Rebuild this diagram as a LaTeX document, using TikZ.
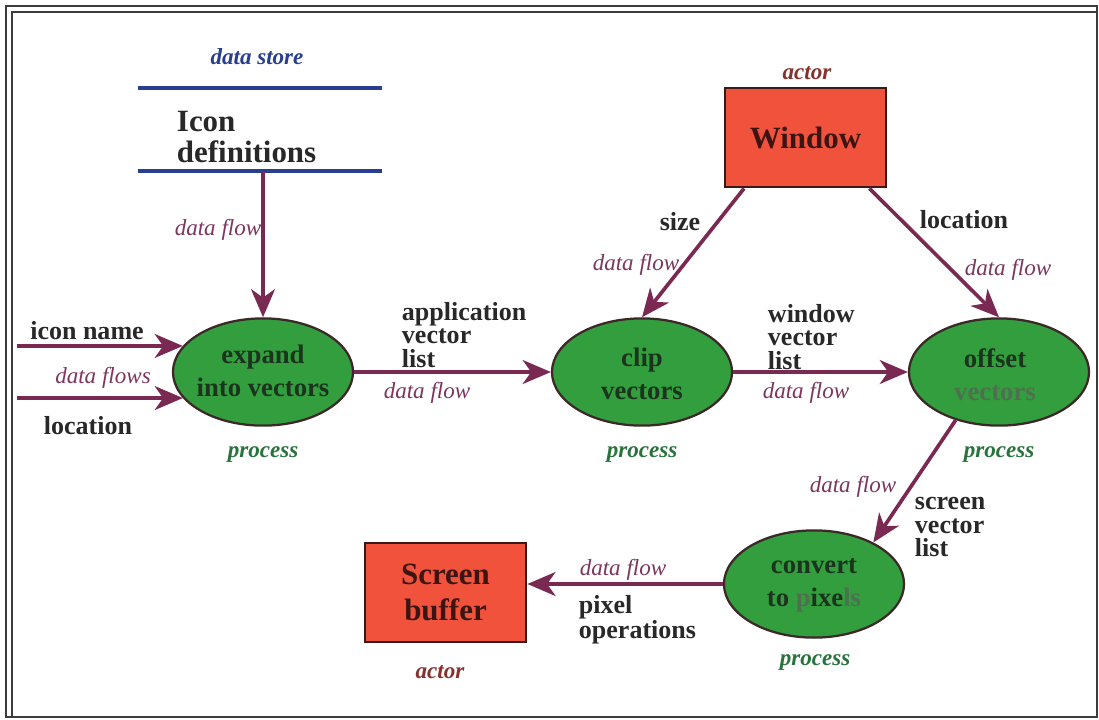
\documentclass[tikz,border=0pt]{standalone}
\usepackage{fontspec}
\setmainfont{Liberation Serif}
\usetikzlibrary{arrows.meta,shapes.geometric,calc}

\definecolor{flowc}{RGB}{122,42,82}
\definecolor{flowtxt}{RGB}{125,55,95}
\definecolor{procfill}{RGB}{50,158,62}
\definecolor{procedge}{RGB}{60,40,40}
\definecolor{proctxt}{RGB}{28,52,30}
\definecolor{procfade}{RGB}{78,112,78}
\definecolor{proclabel}{RGB}{40,115,60}
\definecolor{actfill}{RGB}{240,82,60}
\definecolor{actedge}{RGB}{60,25,25}
\definecolor{acttxt}{RGB}{60,20,18}
\definecolor{actlabel}{RGB}{135,50,45}
\definecolor{storec}{RGB}{40,62,145}
\definecolor{inktxt}{RGB}{40,40,40}
\definecolor{framec}{RGB}{60,60,60}

\begin{document}
\begin{tikzpicture}[x=0.025cm,y=-0.025cm,
  process/.style={ellipse, draw=procedge, line width=1.6pt, fill=procfill,
    minimum width=4.5cm, minimum height=2.68cm, inner sep=0pt},
  proctext/.style={font=\bfseries\fontsize{19}{23.5}\selectfont, text=proctxt, align=center},
  actor/.style={draw=actedge, line width=2pt, fill=actfill, minimum width=4.025cm,
    minimum height=2.475cm, inner sep=0pt, align=center, text=acttxt,
    font=\bfseries\fontsize{22}{25.6}\selectfont},
  storeline/.style={draw=storec, line width=2.6pt},
  storetext/.style={font=\bfseries\fontsize{22}{22.5}\selectfont, text=inktxt, align=left},
  flow/.style={draw=flowc, line width=2.6pt,
    -{Stealth[length=20pt, width=17pt, inset=6pt]}},
  flowlabel/.style={font=\itshape\fontsize{16.4}{18}\selectfont, text=flowtxt},
  kindlabel/.style={font=\bfseries\itshape\fontsize{16.4}{18}\selectfont},
  inktext/.style={font=\bfseries\fontsize{18.5}{16.5}\selectfont, text=inktxt, align=left}
]
\fill[white] (0,0) rectangle (1099,719);
\useasboundingbox (0,0) rectangle (1099,719);

% page frame
\draw[framec, line width=1.4pt] (6,6) rectangle (1097,717);
\draw[framec, line width=1pt] (12,717) -- (12,12) -- (1097,12);

% data store
\node[kindlabel, text=storec] (dslabel) at (257,57) {data store};
\node[minimum width=6.1cm, minimum height=2.075cm, inner sep=0pt] (store) at (260,129.5) {};
\draw[storeline] (store.north west) -- (store.north east);
\draw[storeline] (store.south west) -- (store.south east);
\node[storetext, anchor=west] (storetxt) at (172,137) {Icon\\definitions};

% processes
\node[process] (expand) at (263,372) {};
\node[process] (clip) at (642,372) {};
\node[process] (offset) at (999,372) {};
\node[process] (convert) at (814,584) {};
\node[proctext] (expandtxt) at (263,371) {expand\\into vectors};
\node[proctext] (cliptxt) at (642,374) {clip\\vectors};
\node[proctext] (offsettxt) at (995,375) {offset\\\textcolor{procfade}{vectors}};
\node[proctext] (converttxt) at (814,585) {convert\\to \textcolor{procfade}{p}ixe\textcolor{procfade}{ls}};
\node[kindlabel, text=proclabel] (pk1) at (263,455) {process};
\node[kindlabel, text=proclabel] (pk2) at (642,455) {process};
\node[kindlabel, text=proclabel] (pk3) at (999,455) {process};
\node[kindlabel, text=proclabel] (pk4) at (815,663) {process};

% actors
\node[actor] (window) at (805.5,137.5) {Window};
\node[actor] (screen) at (445.5,592.5) {Screen\\buffer};
\node[kindlabel, text=actlabel] (ak1) at (807,73) {actor};
\node[kindlabel, text=actlabel] (ak2) at (440,672) {actor};

% data flows
\coordinate (inx) at (17,0);
\draw[flow] (expand.north |- store.south) -- (expand.north);
\draw[flow] (expand.162 -| inx) -- (expand.162);
\draw[flow] (expand.198 -| inx) -- (expand.198);
\draw[flow] (expand.east) -- (clip.west);
\draw[flow] (clip.east) -- (offset.west);
\draw[flow] ($(window.south west)!0.125!(window.south east)$) -- (clip.north);
\draw[flow] ($(window.south west)!0.89!(window.south east)$) -- (offset.north);
\draw[flow] (offset.228) -- (convert.35);
\draw[flow] (convert.west) -- (convert.west -| screen.east);

% flow labels
\node[flowlabel] (fl1) at (218,230) {data flow};
\node[flowlabel] (fl2) at (103,378) {data flows};
\node[flowlabel] (fl3) at (427,393) {data flow};
\node[flowlabel] (fl4) at (806,393) {data flow};
\node[flowlabel] (fl5) at (636,265) {data flow};
\node[flowlabel] (fl6) at (1008,270) {data flow};
\node[flowlabel] (fl7) at (853,487) {data flow};
\node[flowlabel] (fl8) at (623,570) {data flow};

% data names
\node[inktext] (tname) at (87,331) {icon name};
\node[inktext] (tloc1) at (88,426) {location};
\node[inktext, anchor=west] (tapp) at (397,335) {application\\vector\\list};
\node[inktext, anchor=west] (twin) at (763,337) {window\\vector\\list};
\node[inktext] (tsize) at (680,222) {size};
\node[inktext] (tloc2) at (964,220) {location};
\node[inktext, anchor=west] (tscr) at (910,527) {screen\\vector\\list};
\node[inktext, anchor=west] (tpix) at (574,620) {pixel\\operations};
\end{tikzpicture}
\end{document}
